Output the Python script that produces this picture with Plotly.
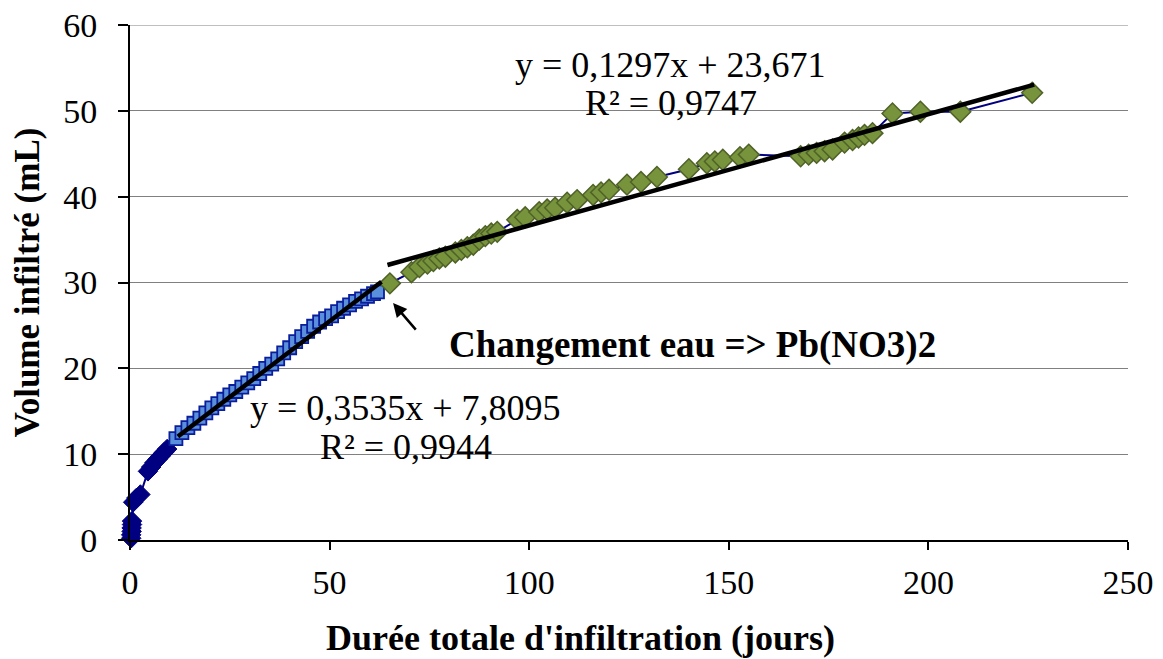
import plotly.graph_objects as go
import numpy as np

# Phase 1 (eau) - early points (dark navy diamonds)
x_early = [0.3, 0.3, 0.4, 0.4, 0.5, 0.5, 0.8, 1.6, 2.6, 4.5, 5.3, 6.1, 6.9, 7.7, 8.5, 9.3]
y_early = [0.2, 0.6, 1.0, 1.4, 1.8, 2.2, 4.4, 4.9, 5.3, 8.0, 8.5, 9.0, 9.4, 9.8, 10.2, 10.6]

# Phase 1 (eau) - light blue squares
x_water = [11.5, 13, 14.5, 16, 17.5, 19, 20.5, 22, 23.5, 25, 26.5, 28, 29.5, 31, 32.5,
           34, 35.5, 37, 38.5, 40, 41.5, 43, 44.5, 46, 47.5, 49, 50.5, 52, 53.5, 55,
           56.5, 58, 59.5, 61, 62]
y_water = [11.8, 12.5, 13.1, 13.6, 14.2, 14.8, 15.4, 15.9, 16.4, 16.9, 17.3, 17.8, 18.3, 18.8, 19.4,
           20.0, 20.5, 21.1, 21.8, 22.4, 23.1, 23.7, 24.3, 24.9, 25.4, 25.8, 26.1, 26.6, 27.0, 27.4,
           27.8, 28.1, 28.4, 28.7, 28.9]

# Phase 2 (Pb(NO3)2) - green diamonds
x_pb = [65.1, 70.5, 72.5, 74.5, 76, 77.5, 79, 81.5, 83, 84.5, 86, 87.5, 89, 90.5, 92,
        97, 99, 102.5, 104.5, 106.5, 109.5, 112, 116, 118, 120, 124.5, 128, 132, 140,
        144.5, 146.5, 148.5, 152.8, 155, 168, 170, 172, 174, 176, 179, 181, 182.5, 184,
        186, 191, 198, 208, 226]
y_pb = [29.9, 31.2, 31.8, 32.2, 32.5, 32.8, 33.0, 33.5, 33.8, 34.1, 34.4, 35.0, 35.4, 35.7, 35.9,
        37.3, 37.6, 38.2, 38.5, 38.7, 39.3, 39.6, 40.2, 40.5, 40.8, 41.4, 41.7, 42.3, 43.2,
        43.9, 44.1, 44.3, 44.6, 44.9, 44.7, 44.9, 45.1, 45.3, 45.5, 46.3, 46.6, 46.9, 47.2,
        47.4, 49.7, 49.9, 49.9, 52.1]

# Linear trendlines (slope, intercept, x-start, x-end)
trend1 = [0.3535, 7.8095, 12, 63]
trend2 = [0.1297, 23.671, 64.5, 226.5]

eq1_text = ["y = 0,3535x + 7,8095", "R² = 0,9944"]
eq2_text = ["y = 0,1297x + 23,671", "R² = 0,9747"]
change_label = "Changement eau => Pb(NO3)2"
x_title = "Durée totale d'infiltration (jours)"
y_title = "Volume infiltré (mL)"

x_ticks = [0, 50, 100, 150, 200, 250]
y_ticks = [0, 10, 20, 30, 40, 50, 60]
y_max = 60

FONT = "Liberation Serif, Times New Roman, serif"

fig = go.Figure()

x_all = x_early + x_water + x_pb
y_all = y_early + y_water + y_pb
fig.add_trace(go.Scatter(x=x_all, y=y_all, mode="lines",
                         line=dict(color="#000080", width=2), cliponaxis=False,
                         showlegend=False, hoverinfo="skip"))
fig.add_trace(go.Scatter(x=x_early, y=y_early, mode="markers", cliponaxis=False,
                         marker=dict(symbol="diamond", size=15, color="#000080",
                                     line=dict(color="#000080", width=1)),
                         showlegend=False))
fig.add_trace(go.Scatter(x=x_water, y=y_water, mode="markers", cliponaxis=False,
                         marker=dict(symbol="square", size=13, color="#5A8FDB",
                                     line=dict(color="#0A1E9C", width=1.8)),
                         showlegend=False))
fig.add_trace(go.Scatter(x=x_pb, y=y_pb, mode="markers", cliponaxis=False,
                         marker=dict(symbol="diamond", size=16, color="#77933C",
                                     line=dict(color="#4F6228", width=1.5)),
                         showlegend=False))

for a, b, x0, x1 in (trend1, trend2):
    xs = np.array([x0, x1])
    fig.add_trace(go.Scatter(x=xs, y=a * xs + b, mode="lines", cliponaxis=False,
                             line=dict(color="black", width=4.5),
                             showlegend=False, hoverinfo="skip"))

ann_font = dict(family=FONT, size=36, color="black")
annotations = [
    dict(x=69.1, y=15.4, text=eq1_text[0]),
    dict(x=69.1, y=10.8, text=eq1_text[1]),
    dict(x=135.5, y=55.3, text=eq2_text[0]),
    dict(x=135.5, y=50.9, text=eq2_text[1]),
]
for a in annotations:
    a.update(xref="x", yref="y", showarrow=False, font=ann_font,
             xanchor="center", yanchor="middle")
annotations.append(dict(x=141, y=22.7, xref="x", yref="y", showarrow=False,
                        text="<b>" + change_label + "</b>",
                        font=dict(family=FONT, size=37, color="black"),
                        xanchor="center", yanchor="middle"))
annotations.append(dict(x=65.9, y=27.6, xref="x", yref="y", text="", showarrow=True,
                        ax=24, ay=28, arrowhead=2, arrowsize=1.1, arrowwidth=2.5,
                        arrowcolor="black", standoff=0))
# x-axis title (slightly left of plot centre, as in the original)
annotations.append(dict(x=0.451, y=0, xref="paper", yref="paper", yshift=-98,
                        showarrow=False, text="<b>" + x_title + "</b>",
                        font=dict(family=FONT, size=36, color="black"),
                        xanchor="center", yanchor="middle"))

fig.update_layout(
    width=1155, height=651,
    margin=dict(l=122, r=35, t=17, b=119, autoexpand=False),
    paper_bgcolor="white", plot_bgcolor="white",
    font=dict(family=FONT, size=34, color="black"),
    annotations=annotations,
    showlegend=False,
    shapes=[dict(type="line", xref="paper", yref="y", x0=0, x1=1, y0=y_max, y1=y_max,
                 line=dict(color="#808080", width=1), layer="below")],
)
fig.update_xaxes(range=[0, 250], tickvals=x_ticks, showgrid=False, zeroline=False,
                 automargin=False, ticklabeloverflow="allow",
                 showline=True, linecolor="black", linewidth=2,
                 ticks="outside", ticklen=8, tickcolor="black", tickwidth=1.5,
                 ticklabelstandoff=3)
fig.update_yaxes(range=[0, y_max], tickvals=y_ticks, showgrid=True, gridcolor="#808080",
                 gridwidth=1, zeroline=False, automargin=False,
                 ticklabeloverflow="allow",
                 showline=True, linecolor="black", linewidth=2,
                 ticks="outside", ticklen=10, tickcolor="black", tickwidth=1.5,
                 ticklabelstandoff=14,
                 title=dict(text="<b>" + y_title + "</b>",
                            font=dict(family=FONT, size=35), standoff=14))

fig.write_html("out.html")
